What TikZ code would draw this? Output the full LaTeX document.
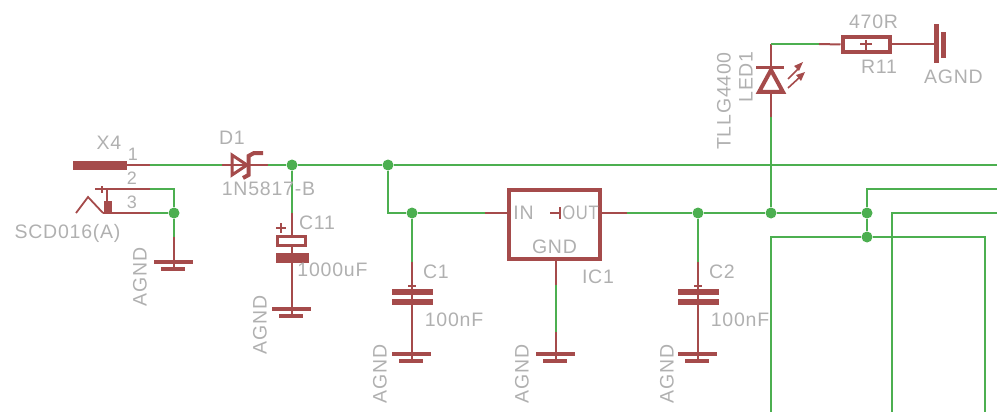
\documentclass[tikz,border=0pt]{standalone}
\usepackage{fontspec}
\setmainfont[LetterSpace=4]{Liberation Sans}
\definecolor{netg}{HTML}{4CAF50}
\definecolor{symr}{HTML}{A54B4B}
\definecolor{txtg}{HTML}{B0B0B0}
\tikzset{
  net/.style={draw=netg,line width=2pt},
  sym/.style={draw=symr,line width=2pt},
  plate/.style={draw=none,fill=symr},
  junction/.style={circle,fill=netg,draw=none,minimum size=11pt,inner sep=0pt},
  lbl/.style={text=txtg,font=\fontsize{19.5}{21}\selectfont,inner sep=0pt},
  rlbl/.style={lbl,rotate=90},
  pics/gndbars/.style={code={
    \fill[symr] (-20,-2.2) rectangle (19,2.2);
    \fill[symr] (-13,5) rectangle (11,9.4);
    \draw[sym] (0,0) -- (0,7);
  }},
  pics/capplates/.style={code={
    \fill[symr] (-20.5,-12.5) rectangle (20.5,-6.5);
    \fill[symr] (-20.5,-2.5) rectangle (20.5,3.5);
    \draw[symr,line width=1.4pt] (-4,-15) -- (4,-15);
  }}
}
\begin{document}
\begin{tikzpicture}[x=1pt,y=-1pt]
\useasboundingbox (0,0) rectangle (997,412);
% junctions
\node[junction] (j292) at (292,165) {};
\node[junction] (j388) at (388,165) {};
\node[junction] (j174) at (174,213) {};
\node[junction] (j412) at (412,213) {};
\node[junction] (j698) at (698,213) {};
\node[junction] (j771) at (771,213) {};
\node[junction] (j867) at (867,213) {};
\node[junction] (j867b) at (867,237) {};
% named end points
\coordinate (x1) at (127,165);
\coordinate (x1e) at (150,165);
\coordinate (x2) at (95,189);
\coordinate (x2e) at (150,189);
\coordinate (x2c) at (174,189);
\coordinate (x3) at (103,213);
\coordinate (x3e) at (150,213);
\coordinate (da) at (222,165);
\coordinate (dc) at (268,165);
\coordinate (right1) at (997,165);
\coordinate (right2) at (997,189);
\coordinate (right3) at (997,213);
% X4 connector
\fill[symr] (73,160.5) rectangle (127,170);
\draw[sym] (x1) -- (x1e);
\draw[sym] (x2) -- (x2e);
\draw[sym] (x3) -- (x3e);
\draw[symr,line width=1.8pt] (76,213) -- (88,197) -- (103,213);
\draw[symr,line width=1.8pt] (102,186) -- (102,193);
\draw[sym] (107,189) -- (107,213);
\fill[symr] (104,201) rectangle (112,213);
% diode D1
\draw[sym] (da) -- (dc);
\draw[symr,line width=3pt] (232,155) -- (232,175) -- (247,165) -- cycle;
\draw[symr,line width=4pt,line join=miter] (263,153) -- (254,153) -- (248.5,156) -- (248.5,175) -- (243,178);
% main nets
\draw[net] (x1e) -- (da);
\draw[net] (dc) -- (j292) -- (j388) -- (right1);
\draw[net] (x2e) -- (x2c) -- (j174);
\draw[net] (x3e) -- (j174);
\draw[net] (j388) |- (j412);
% X4 GND
\coordinate (g1) at (174,262);
\coordinate (g1t) at (174,237);
\draw[net] (j174) -- (g1t);
\draw[sym] (g1t) -- (g1);
\pic at (g1) {gndbars};
% C11
\coordinate (c11t) at (292,213);
\coordinate (g2) at (292,309);
\draw[net] (j292) -- (c11t);
\draw[sym] (c11t) -- (g2);
\draw[symr,line width=3pt,fill=white] (277.5,236.5) rectangle (305.5,245.5);
\fill[symr] (276,252.5) rectangle (309,262.5);
\draw[symr,line width=1.8pt] (276,228) -- (286,228) (281,223) -- (281,233);
\pic at (g2) {gndbars};
% C1
\coordinate (c1t) at (412,262);
\coordinate (g3) at (412,354);
\draw[net] (j412) -- (c1t);
\draw[sym] (c1t) -- (g3);
\pic at (412,301) {capplates};
\pic at (g3) {gndbars};
% IC1
\node[draw=symr,line width=4pt,minimum width=91pt,minimum height=69pt,inner sep=0pt,fill=white] (ic) at (554,224) {};
\coordinate (icin) at (485,213);
\coordinate (icout) at (627,213);
\coordinate (icg1) at (556,285);
\coordinate (icg2) at (556,332);
\coordinate (g4) at (556,354);
\draw[net] (j412) -- (icin);
\draw[sym] (icin) -- (ic.west |- icin);
\draw[sym] (ic.east |- icout) -- (icout);
\draw[net] (icout) -- (j698) -- (j771) -- (j867);
\draw[sym] (ic.south -| icg1) -- (icg1);
\draw[net] (icg1) -- (icg2);
\draw[sym] (icg2) -- (g4);
\draw[symr,line width=1.8pt] (550,213) -- (561,213) (560,207) -- (560,219);
\pic at (g4) {gndbars};
% C2
\coordinate (c2t) at (698,262);
\coordinate (g5) at (698,354);
\draw[net] (j698) -- (c2t);
\draw[sym] (c2t) -- (g5);
\pic at (698,301) {capplates};
\pic at (g5) {gndbars};
% LED and resistor
\coordinate (ledb) at (771,117);
\coordinate (ledt) at (771,44);
\coordinate (rw) at (819,44);
\draw[net] (j771) -- (ledb);
\draw[sym] (ledb) -- (ledt);
\draw[net] (ledt) -- (rw);
\draw[symr,line width=3pt] (756,68) -- (784,68);
\draw[symr,line width=4pt,fill=white] (771,70) -- (759,92) -- (783,92) -- cycle;
\draw[symr,line width=1.6pt] (788,79) -- (799,68) (788,88) -- (800,77);
\fill[symr] (803,62) -- (794,66) -- (799,71) -- cycle;
\fill[symr] (805,72) -- (796,75) -- (801,81) -- cycle;
\node[draw=symr,line width=4pt,minimum width=47pt,minimum height=15pt,inner sep=0pt] (r11) at (866,44.5) {};
\coordinate (gr) at (936,44.5);
\draw[sym] (rw) -- (r11.west);
\draw[sym] (r11.east) -- (gr);
\draw[symr,line width=1.6pt] (860,44) -- (872,44) (866,40) -- (866,50);
\fill[symr] (934,24) rectangle (938.5,63);
\fill[symr] (941,32) rectangle (945.5,58);
% right side nets
\coordinate (b771) at (771,412);
\coordinate (b892) at (892,412);
\coordinate (b985) at (985,412);
\coordinate (t892) at (892,213);
\coordinate (t867) at (867,189);
\coordinate (c985) at (985,237);
\coordinate (c771) at (771,237);
\draw[net] (right2) -- (t867) -- (j867) -- (j867b);
\draw[net] (right3) -- (t892) -- (b892);
\draw[net] (b771) -- (c771) -- (j867b) -- (c985) -- (b985);
% labels
\node[lbl] (tx4) at (109,143) {X4};
\node[lbl,font=\fontsize{18}{20}\selectfont] (tp1) at (133,154) {1};
\node[lbl,font=\fontsize{18}{20}\selectfont] (tp2) at (132,178) {2};
\node[lbl,font=\fontsize{18}{20}\selectfont] (tp3) at (132,202) {3};
\node[lbl] (tscd) at (67.5,233) {SCD016(A)};
\node[lbl] (td1) at (232,138) {D1};
\node[lbl] (td1v) at (268.5,189) {1N5817-B};
\node[lbl] (tc11) at (317,223) {C11};
\node[lbl] (tc11v) at (332.5,270) {1000uF};
\node[lbl] (tc1) at (436,272) {C1};
\node[lbl] (tc1v) at (454,320) {100nF};
\node[lbl] (tc2) at (722,272) {C2};
\node[lbl] (tc2v) at (740,320) {100nF};
\node[lbl] (tin) at (523.5,213) {IN};
\node[lbl,xscale=0.85] (tout) at (580.5,213) {OUT};
\node[lbl] (tgnd) at (554.5,247) {GND};
\node[lbl] (tic) at (598,277) {IC1};
\node[lbl] (t470) at (873.5,22) {470R};
\node[lbl] (tr11) at (879,67) {R11};
\node[lbl] (tag0) at (953.5,77) {AGND};
\node[rlbl] (tled) at (746,77) {LED1};
\node[rlbl] (ttl) at (724,101) {TLLG4400};
\node[rlbl] (tag1) at (140,277) {AGND};
\node[rlbl] (tag2) at (260,325) {AGND};
\node[rlbl] (tag3) at (380,374) {AGND};
\node[rlbl] (tag4) at (522,374) {AGND};
\node[rlbl] (tag5) at (667,374) {AGND};
\end{tikzpicture}
\end{document}
